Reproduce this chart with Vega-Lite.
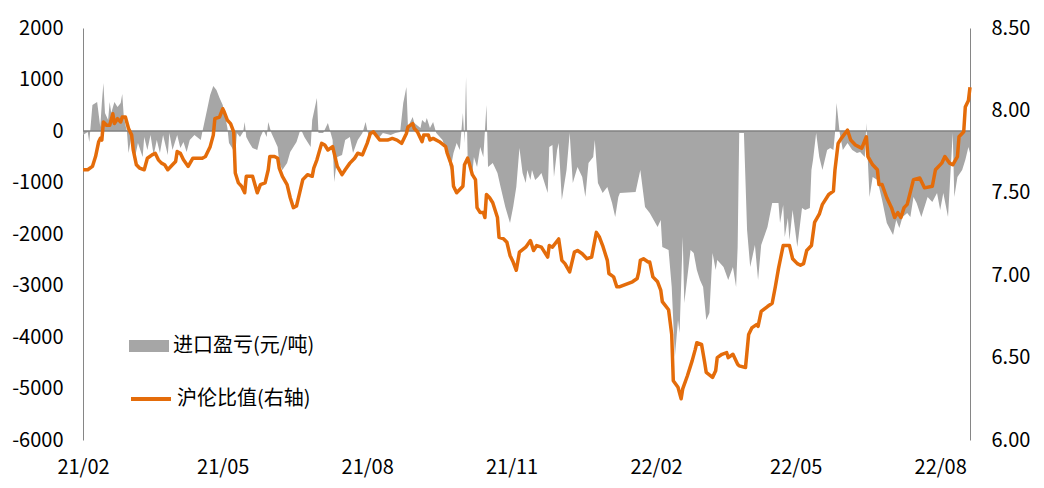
{
  "$schema": "https://vega.github.io/schema/vega-lite/v6.json",
  "width": 887,
  "height": 412,
  "autosize": {"type": "none"},
  "padding": {"left": 83, "top": 28, "right": 74, "bottom": 48},
  "background": "#ffffff",
  "config": {
    "view": {"stroke": null},
    "font": "Noto Sans CJK SC",
    "axis": {"labelFont": "Noto Sans CJK SC", "labelFontSize": 20, "labelColor": "#000000", "grid": false, "ticks": false, "title": null}
  },
  "datasets": {
    "profit": [
      {"date":"2021-02-01","v":-80},{"date":"2021-02-04","v":-20},{"date":"2021-02-05","v":-214},{"date":"2021-02-07","v":505},{"date":"2021-02-10","v":563},{"date":"2021-02-12","v":78},{"date":"2021-02-13","v":544},{"date":"2021-02-14","v":932},{"date":"2021-02-15","v":350},{"date":"2021-02-17","v":214},{"date":"2021-02-18","v":563},{"date":"2021-02-19","v":350},{"date":"2021-02-21","v":563},{"date":"2021-02-23","v":466},{"date":"2021-02-25","v":544},{"date":"2021-02-26","v":718},{"date":"2021-02-27","v":272},
      {"date":"2021-03-01","v":-19},{"date":"2021-03-02","v":-427},{"date":"2021-03-04","v":-78},{"date":"2021-03-06","v":-524},{"date":"2021-03-08","v":-233},{"date":"2021-03-11","v":-505},{"date":"2021-03-12","v":-117},{"date":"2021-03-14","v":-369},{"date":"2021-03-16","v":-78},{"date":"2021-03-18","v":-466},{"date":"2021-03-20","v":-175},{"date":"2021-03-22","v":-427},{"date":"2021-03-24","v":-78},{"date":"2021-03-27","v":-466},{"date":"2021-03-28","v":-39},{"date":"2021-03-30","v":-369},
      {"date":"2021-04-02","v":-78},{"date":"2021-04-04","v":-330},{"date":"2021-04-06","v":-214},{"date":"2021-04-08","v":-408},{"date":"2021-04-10","v":-175},{"date":"2021-04-13","v":-78},{"date":"2021-04-17","v":-175},{"date":"2021-04-18","v":-19},{"date":"2021-04-21","v":408},{"date":"2021-04-23","v":699},{"date":"2021-04-25","v":874},{"date":"2021-04-27","v":796},{"date":"2021-04-29","v":641},
      {"date":"2021-05-01","v":505},{"date":"2021-05-02","v":369},{"date":"2021-05-04","v":58},{"date":"2021-05-05","v":-233},{"date":"2021-05-07","v":-330},{"date":"2021-05-09","v":-466},{"date":"2021-05-10","v":-39},{"date":"2021-05-12","v":-117},{"date":"2021-05-14","v":-19},{"date":"2021-05-15","v":175},{"date":"2021-05-16","v":-117},{"date":"2021-05-18","v":-233},{"date":"2021-05-20","v":-330},{"date":"2021-05-23","v":-369},{"date":"2021-05-25","v":-117},{"date":"2021-05-27","v":19},{"date":"2021-05-29","v":-117},{"date":"2021-05-30","v":175},
      {"date":"2021-06-01","v":-39},{"date":"2021-06-05","v":-311},{"date":"2021-06-06","v":-621},{"date":"2021-06-08","v":-757},{"date":"2021-06-11","v":-621},{"date":"2021-06-13","v":-408},{"date":"2021-06-15","v":-311},{"date":"2021-06-17","v":-214},{"date":"2021-06-19","v":-19},{"date":"2021-06-20","v":19},{"date":"2021-06-22","v":-117},{"date":"2021-06-26","v":-311},{"date":"2021-06-27","v":214},{"date":"2021-06-30","v":641},
      {"date":"2021-07-01","v":-39},{"date":"2021-07-04","v":-39},{"date":"2021-07-07","v":155},{"date":"2021-07-10","v":-175},{"date":"2021-07-11","v":-990},{"date":"2021-07-13","v":-505},{"date":"2021-07-16","v":-466},{"date":"2021-07-18","v":-175},{"date":"2021-07-21","v":-117},{"date":"2021-07-23","v":-427},{"date":"2021-07-26","v":-175},{"date":"2021-07-29","v":-39},{"date":"2021-07-31","v":175},
      {"date":"2021-08-02","v":-117},{"date":"2021-08-05","v":-39},{"date":"2021-08-09","v":-117},{"date":"2021-08-11","v":-39},{"date":"2021-08-16","v":-78},{"date":"2021-08-19","v":-39},{"date":"2021-08-22","v":-19},{"date":"2021-08-24","v":544},{"date":"2021-08-26","v":854},{"date":"2021-08-27","v":78},{"date":"2021-08-30","v":272},{"date":"2021-08-31","v":155},
      {"date":"2021-09-04","v":58},{"date":"2021-09-05","v":214},{"date":"2021-09-07","v":155},{"date":"2021-09-08","v":252},{"date":"2021-09-10","v":58},{"date":"2021-09-12","v":175},{"date":"2021-09-14","v":-39},{"date":"2021-09-18","v":-175},{"date":"2021-09-21","v":-427},{"date":"2021-09-23","v":-757},{"date":"2021-09-25","v":-427},{"date":"2021-09-27","v":-233},{"date":"2021-09-29","v":-369},
      {"date":"2021-10-01","v":350},{"date":"2021-10-02","v":-233},{"date":"2021-10-03","v":1049},{"date":"2021-10-04","v":-505},{"date":"2021-10-07","v":-816},{"date":"2021-10-08","v":-505},{"date":"2021-10-10","v":-699},{"date":"2021-10-12","v":-311},{"date":"2021-10-14","v":-505},{"date":"2021-10-16","v":505},{"date":"2021-10-17","v":-699},{"date":"2021-10-20","v":-621},{"date":"2021-10-23","v":-816},{"date":"2021-10-25","v":-1087},{"date":"2021-10-28","v":-1476},{"date":"2021-10-31","v":-1786},
      {"date":"2021-11-02","v":-1476},{"date":"2021-11-04","v":-1087},{"date":"2021-11-06","v":-330},{"date":"2021-11-08","v":-816},{"date":"2021-11-10","v":-1010},{"date":"2021-11-11","v":-757},{"date":"2021-11-13","v":-951},{"date":"2021-11-14","v":-757},{"date":"2021-11-16","v":-951},{"date":"2021-11-18","v":-893},{"date":"2021-11-20","v":-816},{"date":"2021-11-24","v":-1204},{"date":"2021-11-25","v":-311},{"date":"2021-11-27","v":-272},{"date":"2021-11-28","v":-893},{"date":"2021-11-30","v":-369},
      {"date":"2021-12-01","v":-233},{"date":"2021-12-03","v":-1340},{"date":"2021-12-06","v":-757},{"date":"2021-12-08","v":-39},{"date":"2021-12-10","v":-1010},{"date":"2021-12-13","v":-699},{"date":"2021-12-16","v":-893},{"date":"2021-12-18","v":-1282},{"date":"2021-12-20","v":-621},{"date":"2021-12-23","v":-505},{"date":"2021-12-24","v":-175},{"date":"2021-12-26","v":-1010},{"date":"2021-12-29","v":-1204},
      {"date":"2022-01-01","v":-1087},{"date":"2022-01-04","v":-1398},{"date":"2022-01-06","v":-1670},{"date":"2022-01-08","v":-1282},{"date":"2022-01-09","v":-1204},{"date":"2022-01-19","v":-1185},{"date":"2022-01-22","v":-757},{"date":"2022-01-25","v":-1476},{"date":"2022-01-28","v":-1592},
      {"date":"2022-02-02","v":-1864},{"date":"2022-02-04","v":-1728},{"date":"2022-02-05","v":-2253},{"date":"2022-02-09","v":-2311},{"date":"2022-02-11","v":-3029},{"date":"2022-02-13","v":-4389},{"date":"2022-02-15","v":-3670},{"date":"2022-02-16","v":-3923},{"date":"2022-02-18","v":-2058},{"date":"2022-02-19","v":-3340},{"date":"2022-02-23","v":-2311},{"date":"2022-02-25","v":-2369},{"date":"2022-02-27","v":-2699},
      {"date":"2022-03-01","v":-2893},{"date":"2022-03-03","v":-3029},{"date":"2022-03-05","v":-3670},{"date":"2022-03-07","v":-3534},{"date":"2022-03-09","v":-2369},{"date":"2022-03-11","v":-2699},{"date":"2022-03-12","v":-2505},{"date":"2022-03-16","v":-2641},{"date":"2022-03-19","v":-2893},{"date":"2022-03-22","v":-2641},{"date":"2022-03-24","v":-3029},{"date":"2022-03-25","v":-2253},{"date":"2022-03-26","v":-39},{"date":"2022-03-29","v":-39},{"date":"2022-03-31","v":-1922},
      {"date":"2022-04-02","v":-2641},{"date":"2022-04-05","v":-2214},{"date":"2022-04-07","v":-2893},{"date":"2022-04-09","v":-2214},{"date":"2022-04-13","v":-1864},{"date":"2022-04-16","v":-1398},{"date":"2022-04-20","v":-1398},{"date":"2022-04-21","v":-1786},{"date":"2022-04-23","v":-1437},{"date":"2022-04-24","v":-2058},{"date":"2022-04-26","v":-1689},{"date":"2022-04-27","v":-2117},{"date":"2022-04-29","v":-1534},
      {"date":"2022-05-02","v":-2253},{"date":"2022-05-05","v":-1495},{"date":"2022-05-07","v":-1534},{"date":"2022-05-10","v":-1495},{"date":"2022-05-11","v":-757},{"date":"2022-05-12","v":-563},{"date":"2022-05-14","v":-39},{"date":"2022-05-16","v":-505},{"date":"2022-05-18","v":-757},{"date":"2022-05-21","v":-369},{"date":"2022-05-23","v":-330},{"date":"2022-05-25","v":-369},{"date":"2022-05-26","v":-39},{"date":"2022-05-27","v":544},{"date":"2022-05-29","v":-39},{"date":"2022-05-31","v":-369},
      {"date":"2022-06-03","v":-233},{"date":"2022-06-06","v":-369},{"date":"2022-06-09","v":-427},{"date":"2022-06-11","v":-408},{"date":"2022-06-14","v":-505},{"date":"2022-06-15","v":155},{"date":"2022-06-16","v":-621},{"date":"2022-06-17","v":-1282},{"date":"2022-06-19","v":-893},{"date":"2022-06-22","v":-951},{"date":"2022-06-25","v":-1340},{"date":"2022-06-28","v":-1786},
      {"date":"2022-07-02","v":-2020},{"date":"2022-07-04","v":-1728},{"date":"2022-07-06","v":-1884},{"date":"2022-07-08","v":-1670},{"date":"2022-07-11","v":-1592},{"date":"2022-07-13","v":-1670},{"date":"2022-07-15","v":-1282},{"date":"2022-07-17","v":-1398},{"date":"2022-07-20","v":-1670},{"date":"2022-07-24","v":-1282},{"date":"2022-07-27","v":-1379},{"date":"2022-07-30","v":-1204},
      {"date":"2022-08-01","v":-1534},{"date":"2022-08-03","v":-1204},{"date":"2022-08-06","v":-1670},{"date":"2022-08-09","v":-39},{"date":"2022-08-10","v":-1282},{"date":"2022-08-12","v":-893},{"date":"2022-08-15","v":-757},{"date":"2022-08-17","v":-563},{"date":"2022-08-19","v":-311},{"date":"2022-08-20","v":-427}
    ],
    "ratio": [
      {"date":"2021-02-01","v":7.64},{"date":"2021-02-04","v":7.64},{"date":"2021-02-07","v":7.66},{"date":"2021-02-09","v":7.72},{"date":"2021-02-11","v":7.81},{"date":"2021-02-12","v":7.83},{"date":"2021-02-13","v":7.82},{"date":"2021-02-14","v":7.93},{"date":"2021-02-16","v":7.91},{"date":"2021-02-18","v":7.91},{"date":"2021-02-20","v":7.98},{"date":"2021-02-21","v":7.92},{"date":"2021-02-23","v":7.95},{"date":"2021-02-25","v":7.93},{"date":"2021-02-26","v":7.96},{"date":"2021-02-28","v":7.96},
      {"date":"2021-03-02","v":7.89},{"date":"2021-03-04","v":7.85},{"date":"2021-03-05","v":7.76},{"date":"2021-03-07","v":7.67},{"date":"2021-03-09","v":7.65},{"date":"2021-03-12","v":7.64},{"date":"2021-03-14","v":7.71},{"date":"2021-03-17","v":7.73},{"date":"2021-03-19","v":7.74},{"date":"2021-03-21","v":7.70},{"date":"2021-03-23","v":7.68},{"date":"2021-03-25","v":7.67},{"date":"2021-03-27","v":7.64},{"date":"2021-03-30","v":7.67},
      {"date":"2021-04-01","v":7.69},{"date":"2021-04-02","v":7.75},{"date":"2021-04-04","v":7.74},{"date":"2021-04-06","v":7.70},{"date":"2021-04-09","v":7.66},{"date":"2021-04-12","v":7.71},{"date":"2021-04-18","v":7.71},{"date":"2021-04-20","v":7.72},{"date":"2021-04-23","v":7.78},{"date":"2021-04-25","v":7.85},{"date":"2021-04-26","v":7.95},{"date":"2021-04-29","v":7.96},
      {"date":"2021-05-01","v":8.01},{"date":"2021-05-02","v":7.99},{"date":"2021-05-04","v":7.94},{"date":"2021-05-06","v":7.92},{"date":"2021-05-08","v":7.87},{"date":"2021-05-09","v":7.62},{"date":"2021-05-11","v":7.56},{"date":"2021-05-13","v":7.54},{"date":"2021-05-15","v":7.50},{"date":"2021-05-16","v":7.60},{"date":"2021-05-18","v":7.60},{"date":"2021-05-20","v":7.60},{"date":"2021-05-23","v":7.50},{"date":"2021-05-25","v":7.55},{"date":"2021-05-28","v":7.56},{"date":"2021-05-30","v":7.64},{"date":"2021-05-31","v":7.72},
      {"date":"2021-06-03","v":7.72},{"date":"2021-06-05","v":7.71},{"date":"2021-06-06","v":7.65},{"date":"2021-06-08","v":7.60},{"date":"2021-06-11","v":7.55},{"date":"2021-06-13","v":7.47},{"date":"2021-06-15","v":7.41},{"date":"2021-06-17","v":7.42},{"date":"2021-06-19","v":7.50},{"date":"2021-06-21","v":7.58},{"date":"2021-06-24","v":7.61},{"date":"2021-06-27","v":7.60},{"date":"2021-06-28","v":7.65},{"date":"2021-06-30","v":7.70},
      {"date":"2021-07-03","v":7.80},{"date":"2021-07-05","v":7.79},{"date":"2021-07-07","v":7.76},{"date":"2021-07-10","v":7.78},{"date":"2021-07-12","v":7.70},{"date":"2021-07-13","v":7.66},{"date":"2021-07-16","v":7.61},{"date":"2021-07-18","v":7.64},{"date":"2021-07-21","v":7.68},{"date":"2021-07-24","v":7.71},{"date":"2021-07-26","v":7.74},{"date":"2021-07-29","v":7.73},
      {"date":"2021-08-01","v":7.80},{"date":"2021-08-03","v":7.86},{"date":"2021-08-05","v":7.87},{"date":"2021-08-09","v":7.82},{"date":"2021-08-14","v":7.82},{"date":"2021-08-17","v":7.83},{"date":"2021-08-20","v":7.82},{"date":"2021-08-23","v":7.80},{"date":"2021-08-26","v":7.86},{"date":"2021-08-27","v":7.90},{"date":"2021-08-30","v":7.92},{"date":"2021-08-31","v":7.89},
      {"date":"2021-09-02","v":7.87},{"date":"2021-09-05","v":7.81},{"date":"2021-09-06","v":7.85},{"date":"2021-09-09","v":7.85},{"date":"2021-09-10","v":7.82},{"date":"2021-09-12","v":7.83},{"date":"2021-09-16","v":7.81},{"date":"2021-09-20","v":7.78},{"date":"2021-09-21","v":7.74},{"date":"2021-09-24","v":7.66},{"date":"2021-09-25","v":7.54},{"date":"2021-09-27","v":7.50},{"date":"2021-09-29","v":7.52},
      {"date":"2021-10-01","v":7.54},{"date":"2021-10-02","v":7.67},{"date":"2021-10-04","v":7.71},{"date":"2021-10-05","v":7.68},{"date":"2021-10-07","v":7.61},{"date":"2021-10-09","v":7.58},{"date":"2021-10-10","v":7.41},{"date":"2021-10-12","v":7.38},{"date":"2021-10-14","v":7.38},{"date":"2021-10-15","v":7.35},{"date":"2021-10-16","v":7.49},{"date":"2021-10-18","v":7.47},{"date":"2021-10-20","v":7.44},{"date":"2021-10-23","v":7.35},{"date":"2021-10-24","v":7.23},{"date":"2021-10-27","v":7.22},{"date":"2021-10-29","v":7.20},{"date":"2021-10-31","v":7.12},
      {"date":"2021-11-02","v":7.08},{"date":"2021-11-04","v":7.03},{"date":"2021-11-06","v":7.14},{"date":"2021-11-10","v":7.17},{"date":"2021-11-13","v":7.21},{"date":"2021-11-15","v":7.15},{"date":"2021-11-17","v":7.18},{"date":"2021-11-20","v":7.17},{"date":"2021-11-24","v":7.11},{"date":"2021-11-25","v":7.18},{"date":"2021-11-27","v":7.17},
      {"date":"2021-12-01","v":7.22},{"date":"2021-12-03","v":7.09},{"date":"2021-12-05","v":7.07},{"date":"2021-12-08","v":7.02},{"date":"2021-12-11","v":7.14},{"date":"2021-12-13","v":7.15},{"date":"2021-12-16","v":7.13},{"date":"2021-12-19","v":7.10},{"date":"2021-12-22","v":7.11},{"date":"2021-12-25","v":7.26},{"date":"2021-12-27","v":7.23},{"date":"2021-12-29","v":7.18},
      {"date":"2022-01-01","v":7.09},{"date":"2022-01-02","v":7.01},{"date":"2022-01-05","v":6.99},{"date":"2022-01-07","v":6.93},{"date":"2022-01-09","v":6.93},{"date":"2022-01-17","v":6.96},{"date":"2022-01-20","v":6.98},{"date":"2022-01-21","v":7.02},{"date":"2022-01-22","v":7.09},{"date":"2022-01-24","v":7.10},{"date":"2022-01-27","v":7.08},{"date":"2022-01-28","v":7.08},{"date":"2022-01-30","v":6.99},
      {"date":"2022-02-02","v":6.96},{"date":"2022-02-04","v":6.91},{"date":"2022-02-05","v":6.84},{"date":"2022-02-09","v":6.79},{"date":"2022-02-11","v":6.64},{"date":"2022-02-12","v":6.36},{"date":"2022-02-15","v":6.32},{"date":"2022-02-17","v":6.25},{"date":"2022-02-18","v":6.31},{"date":"2022-02-21","v":6.39},{"date":"2022-02-24","v":6.48},{"date":"2022-02-26","v":6.55},{"date":"2022-02-27","v":6.59},
      {"date":"2022-03-02","v":6.58},{"date":"2022-03-04","v":6.47},{"date":"2022-03-05","v":6.41},{"date":"2022-03-09","v":6.38},{"date":"2022-03-11","v":6.42},{"date":"2022-03-12","v":6.50},{"date":"2022-03-15","v":6.52},{"date":"2022-03-18","v":6.53},{"date":"2022-03-19","v":6.50},{"date":"2022-03-22","v":6.52},{"date":"2022-03-25","v":6.46},{"date":"2022-03-26","v":6.45},{"date":"2022-03-30","v":6.44},
      {"date":"2022-04-01","v":6.64},{"date":"2022-04-03","v":6.68},{"date":"2022-04-06","v":6.70},{"date":"2022-04-07","v":6.69},{"date":"2022-04-09","v":6.78},{"date":"2022-04-13","v":6.81},{"date":"2022-04-16","v":6.83},{"date":"2022-04-18","v":6.93},{"date":"2022-04-20","v":7.04},{"date":"2022-04-23","v":7.18},{"date":"2022-04-27","v":7.18},{"date":"2022-04-29","v":7.10},
      {"date":"2022-05-02","v":7.07},{"date":"2022-05-04","v":7.06},{"date":"2022-05-06","v":7.07},{"date":"2022-05-08","v":7.15},{"date":"2022-05-11","v":7.18},{"date":"2022-05-13","v":7.32},{"date":"2022-05-16","v":7.37},{"date":"2022-05-18","v":7.43},{"date":"2022-05-22","v":7.49},{"date":"2022-05-25","v":7.51},{"date":"2022-05-26","v":7.64},{"date":"2022-05-28","v":7.80},{"date":"2022-05-30","v":7.83},
      {"date":"2022-06-03","v":7.88},{"date":"2022-06-05","v":7.82},{"date":"2022-06-08","v":7.79},{"date":"2022-06-10","v":7.78},{"date":"2022-06-12","v":7.77},{"date":"2022-06-15","v":7.84},{"date":"2022-06-16","v":7.72},{"date":"2022-06-19","v":7.67},{"date":"2022-06-22","v":7.64},{"date":"2022-06-23","v":7.55},{"date":"2022-06-25","v":7.55},{"date":"2022-06-28","v":7.47},
      {"date":"2022-07-01","v":7.41},{"date":"2022-07-03","v":7.35},{"date":"2022-07-05","v":7.38},{"date":"2022-07-07","v":7.35},{"date":"2022-07-09","v":7.41},{"date":"2022-07-11","v":7.43},{"date":"2022-07-15","v":7.58},{"date":"2022-07-19","v":7.59},{"date":"2022-07-22","v":7.53},{"date":"2022-07-27","v":7.54},{"date":"2022-07-29","v":7.64},
      {"date":"2022-08-02","v":7.68},{"date":"2022-08-04","v":7.72},{"date":"2022-08-07","v":7.68},{"date":"2022-08-09","v":7.67},{"date":"2022-08-12","v":7.72},{"date":"2022-08-13","v":7.84},{"date":"2022-08-16","v":7.87},{"date":"2022-08-17","v":8.02},{"date":"2022-08-19","v":8.06},{"date":"2022-08-20","v":8.14}
    ]
  },
  "layer": [
    {
      "layer": [
        {
          "data": {"name": "profit"},
          "mark": {"type": "area", "color": "#a6a6a6", "opacity": 1},
          "encoding": {
            "x": {
              "field": "date", "type": "temporal",
              "scale": {"type": "utc", "domain": [{"year": 2021, "month": 2, "date": 1, "utc": true}, {"year": 2022, "month": 8, "date": 20, "utc": true}]},
              "axis": {
                "orient": "bottom", "domain": false, "ticks": false, "labelPadding": 17, "labelFlush": false, "labelOverlap": false, "labelBound": false,
                "labelExpr": "utcFormat(datum.value, '%y/%m')",
                "values": [
                  {"year": 2021, "month": 2, "date": 1, "utc": true},
                  {"year": 2021, "month": 5, "date": 1, "utc": true},
                  {"year": 2021, "month": 8, "date": 1, "utc": true},
                  {"year": 2021, "month": 11, "date": 1, "utc": true},
                  {"year": 2022, "month": 2, "date": 1, "utc": true},
                  {"year": 2022, "month": 5, "date": 1, "utc": true},
                  {"year": 2022, "month": 8, "date": 1, "utc": true}
                ]
              }
            },
            "y": {
              "field": "v", "type": "quantitative",
              "scale": {"domain": [-6000, 2000], "nice": false, "zero": false},
              "axis": {"orient": "left", "values": [-6000, -5000, -4000, -3000, -2000, -1000, 0, 1000, 2000], "labelExpr": "'' + datum.value", "domainColor": "#868686", "domainWidth": 1, "labelPadding": 20}
            },
            "y2": {"datum": 0},
            "fill": {
              "datum": "进口盈亏(元/吨)",
              "scale": {"range": ["#a6a6a6"]},
              "legend": {"orient": "none", "legendX": 46, "legendY": 298, "title": null, "symbolType": "M-1,-0.3H1V0.3H-1Z", "symbolSize": 1600, "symbolStrokeWidth": 0, "labelFont": "Noto Sans CJK SC", "labelFontSize": 20, "labelColor": "#000000", "labelOffset": 4}
            }
          }
        },
        {
          "data": {"values": [{"zero": 0}]},
          "mark": {"type": "rule", "color": "#808080", "strokeWidth": 1.5},
          "encoding": {"y": {"field": "zero", "type": "quantitative"}}
        }
      ]
    },
    {
      "data": {"name": "ratio"},
      "mark": {"type": "line", "strokeWidth": 3.5, "strokeJoin": "round"},
      "encoding": {
        "x": {
          "field": "date", "type": "temporal",
          "scale": {"type": "utc", "domain": [{"year": 2021, "month": 2, "date": 1, "utc": true}, {"year": 2022, "month": 8, "date": 20, "utc": true}]}
        },
        "y": {
          "field": "v", "type": "quantitative",
          "scale": {"domain": [6, 8.5], "nice": false, "zero": false},
          "axis": {"orient": "right", "values": [6, 6.5, 7, 7.5, 8, 8.5], "labelExpr": "format(datum.value, '.2f')", "domainColor": "#868686", "domainWidth": 1, "labelPadding": 21}
        },
        "stroke": {
          "datum": "沪伦比值(右轴)",
          "scale": {"range": ["#e46c0a"]},
          "legend": {"orient": "none", "legendX": 46, "legendY": 349, "title": null, "symbolType": "stroke", "symbolSize": 1600, "symbolStrokeWidth": 4, "labelFont": "Noto Sans CJK SC", "labelFontSize": 20, "labelColor": "#000000", "labelOffset": 4}
        }
      }
    }
  ],
  "resolve": {"scale": {"y": "independent"}}
}
